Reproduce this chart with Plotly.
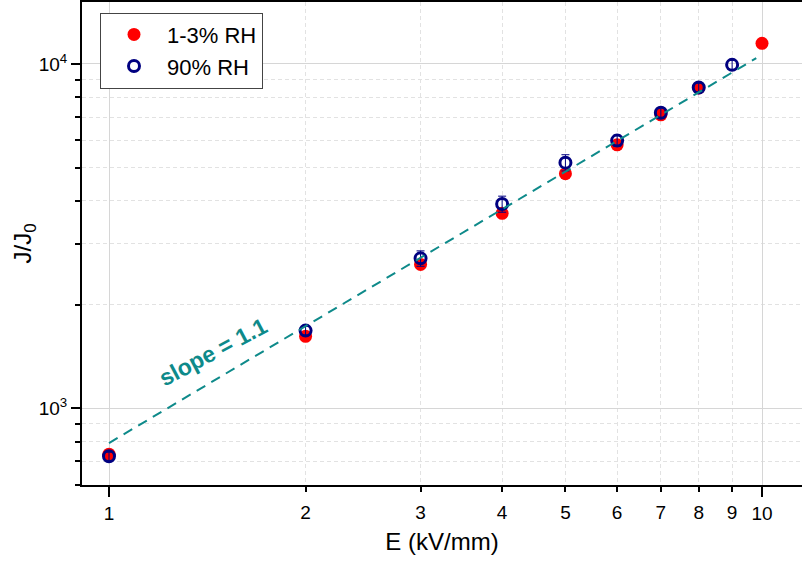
import plotly.graph_objects as go

# ---- data ----
e_dry = [1, 2, 3, 4, 5, 6, 7, 8, 10]
j_dry = [735, 1617, 2615, 3680, 4798, 5821, 7113, 8511, 11470]
j_dry_err = [20, 30, 50, 70, 90, 100, 120, 150, 200]

e_wet = [1, 2, 3, 4, 5, 6, 7, 8, 9]
j_wet = [725, 1680, 2723, 3918, 5166, 5986, 7211, 8540, 9933]
j_wet_err = [20, 50, 140, 210, 280, 220, 250, 250, 300]

fit_e = [1, 9.8]
fit_j = [792, 10390]

x_major = [1, 10]
x_major_text = ["1", "10"]
x_minor = [2, 3, 4, 5, 6, 7, 8, 9]
x_minor_text = ["2", "3", "4", "5", "6", "7", "8", "9"]

y_major = [1000, 10000]
y_major_text = ["10<sup>3</sup>", "10<sup>4</sup>"]
y_minor = [600, 700, 800, 900, 2000, 3000, 4000, 5000, 6000, 7000, 8000, 9000]

slope_label = "slope = 1.1"

RED = "#ff0000"
NAVY = "#000080"
TEAL = "#0e8a8a"
FONT = "Liberation Sans, Arial, sans-serif"

fig = go.Figure()

fig.add_trace(go.Scatter(
    x=e_dry, y=j_dry, mode="markers", name="1-3% RH",
    marker=dict(symbol="circle", size=13, color=RED),
    error_y=dict(type="data", array=j_dry_err, color=RED, thickness=1, width=3),
))
fig.add_trace(go.Scatter(
    x=e_wet, y=j_wet, mode="markers", name="90% RH",
    marker=dict(symbol="circle-open", size=11, color=NAVY, line=dict(width=3, color=NAVY)),
    error_y=dict(type="data", array=j_wet_err, color=NAVY, thickness=1, width=4),
))
fig.add_trace(go.Scatter(
    x=fit_e, y=fit_j, mode="lines", showlegend=False, xaxis="x2",
    line=dict(color=TEAL, width=2, dash="10px,7px"),
))

x_range = [-0.04135, 1.06126]
y_range = [2.7768, 4.1797]

fig.update_layout(
    width=802, height=563,
    margin=dict(l=82, r=0, t=2, b=78, autoexpand=False),
    paper_bgcolor="white", plot_bgcolor="white",
    font=dict(family=FONT, color="black"),
    showlegend=True,
    legend=dict(
        x=0.025, y=0.978, xanchor="left", yanchor="top",
        bgcolor="white", bordercolor="#444444", borderwidth=1,
        font=dict(size=22, family=FONT), itemwidth=56,
        tracegroupgap=0,
    ),
    xaxis=dict(
        type="log", range=x_range, automargin=False,
        tickvals=x_major, ticktext=x_major_text,
        ticks="outside", ticklen=10, tickwidth=1.5, tickcolor="black",
        tickfont=dict(size=19),
        showline=True, linecolor="black", linewidth=2, mirror=True,
        showgrid=True, gridcolor="#d6d6d6", gridwidth=1,
        zeroline=False,
        minor=dict(tickvals=x_minor, ticks="outside", ticklen=5, tickwidth=1.5,
                   tickcolor="black", showgrid=True, gridcolor="#e2e2e2",
                   griddash="4px,3px", gridwidth=1),
        title=dict(text="E (kV/mm)", font=dict(size=24), standoff=10),
    ),
    xaxis2=dict(
        type="log", overlaying="x", matches="x", anchor="y", side="bottom",
        automargin=False,
        tickvals=x_minor, ticktext=x_minor_text,
        ticks="outside", ticklen=10, tickcolor="rgba(0,0,0,0)",
        tickfont=dict(size=19),
        showline=False, showgrid=False, zeroline=False,
    ),
    yaxis=dict(
        type="log", range=y_range, automargin=False,
        tickvals=y_major, ticktext=y_major_text,
        ticks="outside", ticklen=9, tickwidth=1.5, tickcolor="black",
        tickfont=dict(size=19),
        showline=True, linecolor="black", linewidth=2,
        showgrid=True, gridcolor="#d6d6d6", gridwidth=1,
        zeroline=False,
        minor=dict(tickvals=y_minor, ticks="outside", ticklen=5, tickwidth=1.5,
                   tickcolor="black", showgrid=True, gridcolor="#e2e2e2",
                   griddash="4px,3px", gridwidth=1),
        title=dict(text="J/J<sub>0</sub>", font=dict(size=24), standoff=0),
    ),
)

fig.add_annotation(
    x=0.159, y=3.1623, xref="x", yref="y",
    text="<b>%s</b>" % slope_label, showarrow=False,
    textangle=-28, font=dict(size=23, color=TEAL, family=FONT),
)

fig.write_html(
    "out.html",
    config={"displayModeBar": False},
    post_script="document.body.style.margin='0';document.body.style.overflow='hidden';",
)
